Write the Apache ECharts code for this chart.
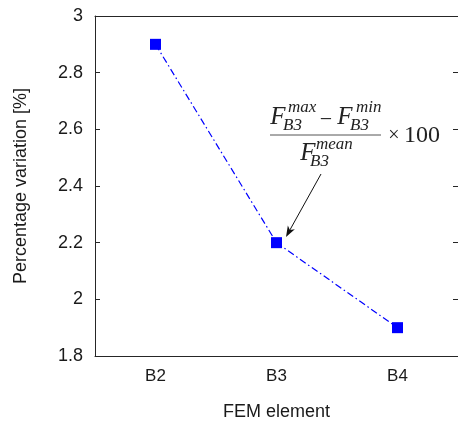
<!DOCTYPE html>
<html>
<head>
<meta charset="utf-8">
<script src="https://cdn.jsdelivr.net/npm/echarts@6/dist/echarts.min.js"></script>
<style>
html,body{margin:0;padding:0;background:#fff;}
#chart{width:458px;height:426px;}
</style>
</head>
<body>
<div id="chart"></div>
<script>
const categories = ['B2', 'B3', 'B4'];
const values = [2.9, 2.2, 1.9];
const yTicks = { min: 1.8, max: 3, interval: 0.2 };
const xTitle = 'FEM element';
const yTitle = 'Percentage variation [%]';

const chart = echarts.init(document.getElementById('chart'));
const axisColor = '#262626';
const sansFont = 'Liberation Sans, Arial, sans-serif';
const serif = 'Liberation Serif, Times New Roman, serif';
const txtCol = '#1a1a1a';

function t(text, x, y, size, opts) {
  opts = opts || {};
  return {
    type: 'text', x: x, y: y, silent: true,
    style: {
      text: text,
      fill: '#222',
      font: (opts.italic === false ? '' : 'italic ') + size + 'px ' + serif,
      textAlign: opts.align || 'left',
      textVerticalAlign: 'middle'
    }
  };
}

// arrow geometry
const tip = [286, 237], tail = [321, 174];
const dx = tip[0] - tail[0], dy = tip[1] - tail[1];
const L = Math.sqrt(dx*dx + dy*dy);
const u = [dx / L, dy / L], p = [-u[1], u[0]];
const back = [tip[0] - 11*u[0], tip[1] - 11*u[1]];
const notch = [tip[0] - 8*u[0], tip[1] - 8*u[1]];
const w1 = [back[0] + 4*p[0], back[1] + 4*p[1]];
const w2 = [back[0] - 4*p[0], back[1] - 4*p[1]];

const option = {
  animation: false,
  backgroundColor: '#fff',
  grid: { left: 95, top: 16, width: 366, height: 347, containLabel: false },
  xAxis: [{
    type: 'category', data: categories, position: 'bottom',
    boundaryGap: true,
    name: xTitle, nameLocation: 'middle', nameGap: 47,
    nameTextStyle: { fontFamily: sansFont, fontSize: 18, color: txtCol },
    axisLine: { lineStyle: { color: axisColor, width: 1 } },
    axisTick: { inside: true, length: 5, alignWithLabel: true, lineStyle: { color: axisColor } },
    axisLabel: { fontFamily: sansFont, fontSize: 17, color: txtCol, margin: 12 },
    splitLine: { show: false }
  }, {
    type: 'category', data: categories, position: 'top',
    boundaryGap: true,
    axisLine: { lineStyle: { color: axisColor, width: 1 } },
    axisTick: { inside: true, length: 5, alignWithLabel: true, lineStyle: { color: axisColor } },
    axisLabel: { show: false },
    splitLine: { show: false }
  }],
  yAxis: [{
    type: 'value', min: yTicks.min, max: yTicks.max, interval: yTicks.interval,
    name: yTitle, nameLocation: 'middle', nameGap: 65, nameRotate: 90,
    nameTextStyle: { fontFamily: sansFont, fontSize: 18, color: txtCol },
    axisLine: { show: true, lineStyle: { color: axisColor, width: 1 } },
    axisTick: { show: true, inside: true, length: 5, lineStyle: { color: axisColor } },
    axisLabel: { fontFamily: sansFont, fontSize: 18, color: txtCol, margin: 12,
      formatter: v => String(Math.round(v * 10) / 10) },
    splitLine: { show: false }
  }, {
    type: 'value', min: yTicks.min, max: yTicks.max, interval: yTicks.interval, position: 'right',
    axisLine: { show: true, lineStyle: { color: axisColor, width: 1 } },
    axisTick: { show: true, inside: true, length: 5, lineStyle: { color: axisColor } },
    axisLabel: { show: false },
    splitLine: { show: false }
  }],
  series: [{
    type: 'line', data: values,
    symbol: 'rect', symbolSize: 11,
    itemStyle: { color: '#0000ff' },
    lineStyle: { color: '#0000ff', width: 1.2, type: [7, 3, 1.5, 3] }
  }],
  graphic: [
    t('F', 278, 117, 25, { align: 'center' }),
    t('max', 288, 108, 17),
    t('B3', 283, 126, 17),
    { type: 'text', x: 326, y: 120, silent: true,
      style: { text: '\u2212', fill: '#222', font: '22px ' + serif, textAlign: 'center', textVerticalAlign: 'middle' } },
    t('F', 345, 117, 25, { align: 'center' }),
    t('min', 356, 108, 17),
    t('B3', 350, 126, 17),
    { type: 'line', silent: true, shape: { x1: 270, y1: 135, x2: 381, y2: 135 },
      style: { stroke: '#555', lineWidth: 1 } },
    t('F', 308, 153, 25, { align: 'center' }),
    t('mean', 316, 145, 17),
    t('B3', 310, 162, 17),
    { type: 'text', x: 394, y: 136, silent: true,
      style: { text: '\u00d7', fill: '#222', font: '20px ' + serif, textAlign: 'center', textVerticalAlign: 'middle' } },
    { type: 'text', x: 404, y: 136, silent: true,
      style: { text: '100', fill: '#222', font: '24px ' + serif, textAlign: 'left', textVerticalAlign: 'middle' } },
    { type: 'line', silent: true, shape: { x1: tail[0], y1: tail[1], x2: notch[0], y2: notch[1] },
      style: { stroke: '#111', lineWidth: 1 } },
    { type: 'polygon', silent: true, shape: { points: [tip, w1, notch, w2] },
      style: { fill: '#111' } }
  ]
};
chart.setOption(option);
</script>
</body>
</html>
